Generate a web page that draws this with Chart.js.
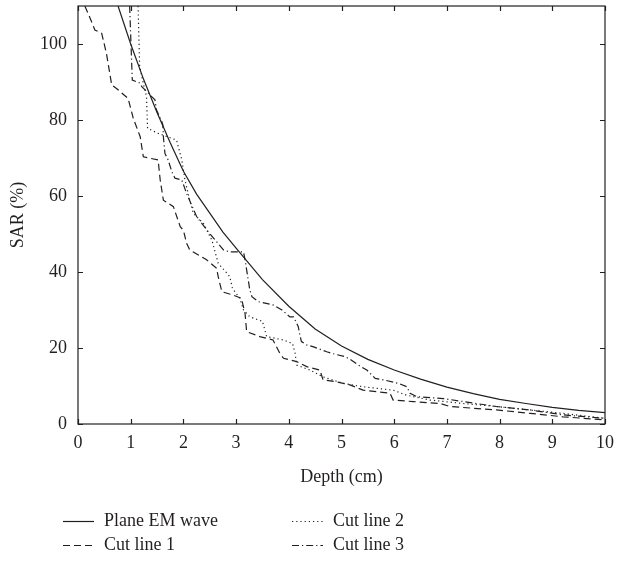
<!DOCTYPE html>
<html><head><meta charset="utf-8">
<script src="https://cdn.jsdelivr.net/npm/chart.js@4"></script>
<style>html,body{margin:0;padding:0;background:#fff}canvas{display:block}</style>
</head><body>
<canvas id="c" width="618" height="561"></canvas>
<script>
// ---- data ----
const xTicks = [0,1,2,3,4,5,6,7,8,9,10];
const yTicks = [0,20,40,60,80,100];
const seriesNames = ["Plane EM wave","Cut line 1","Cut line 2","Cut line 3"];

const planeDepth = [0.76,1,1.25,1.5,1.75,2,2.25,2.5,2.75,3,3.5,4,4.5,5,5.5,6,6.5,7,7.5,8,8.5,9,9.5,10];
const planeSAR   = [110,100,90.5,82,74,66.5,60.5,55.5,50.5,46.3,38,31,25,20.5,17,14.2,11.8,9.7,8,6.5,5.4,4.4,3.6,3.0];

const cut1Depth = [0.13,0.23,0.32,0.45,0.54,0.64,0.73,0.95,1.05,1.18,1.24,1.52,1.56,1.62,1.81,1.94,2.0,2.06,2.12,2.44,2.63,2.66,2.73,2.95,3.1,3.17,3.2,3.45,3.7,3.83,3.9,4.15,4.34,4.59,4.65,4.9,5.16,5.41,5.92,5.98,6.36,6.87,7.06,7.94,8.58,9.2,10];
const cut1SAR   = [110,106.8,103.7,102.8,97.5,89.2,88.3,85.7,80.4,75.6,70.3,69.5,64.2,58.9,57.2,51.9,51,47.6,45.8,43.2,41,38.8,34.8,33.9,33.1,29.1,24.3,23,22.1,18.6,17.3,16.4,15.1,14.2,11.6,11.1,10.3,8.9,8.1,6.3,5.9,5.4,4.6,3.7,2.8,1.9,1.1];

const cut2Depth = [1.14,1.17,1.24,1.3,1.32,1.52,1.87,1.97,2.03,2.12,2.19,2.38,2.54,2.66,2.88,2.93,3.07,3.14,3.26,3.5,3.58,3.9,4.07,4.12,4.15,4.4,4.65,5.03,5.41,5.98,6.23,6.68,7.31,7.94,8.58,9.2,10];
const cut2SAR   = [110,94,89.6,86.1,77.8,76.5,74.7,69.5,64.2,58.9,55.4,52.8,48.4,42.3,38.8,35.7,33.1,30,28.2,27,23,22.1,21.2,18.6,15.5,14.2,12.4,10.7,9.8,8.9,7.6,6.3,5.4,4.6,3.7,2.8,1.5];

const cut3Depth = [0.98,1.03,1.18,1.21,1.46,1.49,1.59,1.61,1.62,1.65,1.71,1.78,1.84,1.97,2.06,2.25,2.47,2.76,2.88,3.14,3.17,3.26,3.3,3.42,3.71,3.87,4.02,4.09,4.18,4.21,4.24,4.34,4.47,4.72,4.81,5.07,5.19,5.32,5.48,5.64,5.8,6.08,6.24,6.3,6.43,6.93,7.31,7.94,8.58,9.2,10];
const cut3SAR   = [110,90.5,89.7,88.8,85.3,82.6,79.6,78.7,75.6,71.2,69.5,66.4,64.7,64.2,60.7,54.6,50.6,45.8,45.3,45.3,43.2,35.3,33.5,32.2,31.3,30,28.2,28.2,25.6,23.4,21.7,20.8,20.3,19,18.6,17.7,16.8,15.5,14.2,12,11.6,10.7,9.8,8.1,7.2,6.7,5.9,4.6,3.7,2.4,1.5];

// ---- chart ----
const FONT = "'Liberation Serif', 'DejaVu Serif', serif";
const INK = '#231f20';
const pts = (xs, ys) => xs.map((x, i) => ({x, y: ys[i]}));
const dashes = [[], [7,4], [1.2,3], [7,3,1.2,3]];

const frameTicks = {
  id: 'frameTicks',
  afterDatasetsDraw(chart) {
    const {ctx, chartArea: a, scales} = chart;
    ctx.save();
    ctx.strokeStyle = INK; ctx.lineWidth = 1.2; ctx.setLineDash([]);
    ctx.strokeRect(a.left, a.top, a.right - a.left, a.bottom - a.top);
    const L = 5;
    ctx.beginPath();
    xTicks.forEach(v => {
      const px = Math.round(scales.x.getPixelForValue(v)) + 0.5;
      ctx.moveTo(px, a.bottom); ctx.lineTo(px, a.bottom - L);
      ctx.moveTo(px, a.top); ctx.lineTo(px, a.top + L);
    });
    yTicks.forEach(v => {
      const py = Math.round(scales.y.getPixelForValue(v)) + 0.5;
      ctx.moveTo(a.left, py); ctx.lineTo(a.left + L, py);
      ctx.moveTo(a.right, py); ctx.lineTo(a.right - L, py);
    });
    ctx.stroke();
    ctx.restore();
  }
};

const bottomLegend = {
  id: 'bottomLegend',
  afterDraw(chart) {
    const {ctx} = chart;
    const cols = [63, 292], rows = [521, 545];
    const place = [[0,0],[0,1],[1,0],[1,1]]; // [col,row] per dataset
    ctx.save();
    ctx.font = '18px ' + FONT;
    ctx.fillStyle = INK; ctx.textBaseline = 'middle';
    chart.data.datasets.forEach((ds, i) => {
      const x = cols[place[i][0]], y = rows[place[i][1]];
      ctx.strokeStyle = INK; ctx.lineWidth = 1.2;
      ctx.setLineDash(ds.borderDash || []);
      ctx.beginPath(); ctx.moveTo(x, y + 0.5); ctx.lineTo(x + 31, y + 0.5); ctx.stroke();
      ctx.setLineDash([]);
      ctx.fillText(ds.label, x + 41, y);
    });
    ctx.restore();
  }
};

new Chart(document.getElementById('c'), {
  type: 'scatter',
  data: {
    datasets: [
      {label: seriesNames[0], data: pts(planeDepth, planeSAR)},
      {label: seriesNames[1], data: pts(cut1Depth, cut1SAR)},
      {label: seriesNames[2], data: pts(cut2Depth, cut2SAR)},
      {label: seriesNames[3], data: pts(cut3Depth, cut3SAR)}
    ].map((d, i) => Object.assign(d, {
      showLine: true, pointRadius: 0, borderColor: INK, borderWidth: 1.2,
      borderDash: dashes[i], tension: 0, fill: false
    }))
  },
  options: {
    responsive: false, animation: false, devicePixelRatio: 1,
    layout: {padding: {left: 0, right: 13, top: 6, bottom: 73}},
    plugins: {legend: {display: false}, tooltip: {enabled: false}},
    scales: {
      x: {
        type: 'linear', min: 0, max: 10,
        grid: {display: false}, border: {display: false},
        afterBuildTicks: s => { s.ticks = xTicks.map(v => ({value: v})); },
        afterFit: s => { s.height = 64; s.paddingLeft = 0; s.paddingRight = 0; },
        ticks: {autoSkip: false, maxRotation: 0, padding: 0, color: INK, font: {family: FONT, size: 18}},
        title: {display: true, text: 'Depth (cm)', color: INK, font: {family: FONT, size: 18}, padding: {top: 8, bottom: 0}}
      },
      y: {
        type: 'linear', min: 0, max: 110,
        grid: {display: false}, border: {display: false},
        afterBuildTicks: s => { s.ticks = yTicks.map(v => ({value: v})); },
        afterFit: s => { s.width = 78; s.paddingTop = 0; s.paddingBottom = 0; },
        ticks: {autoSkip: false, padding: 3, color: INK, font: {family: FONT, size: 18}},
        title: {display: true, text: 'SAR (%)', color: INK, font: {family: FONT, size: 18}, padding: {top: 7, bottom: 0}}
      }
    }
  },
  plugins: [frameTicks, bottomLegend]
});
</script>
</body></html>
